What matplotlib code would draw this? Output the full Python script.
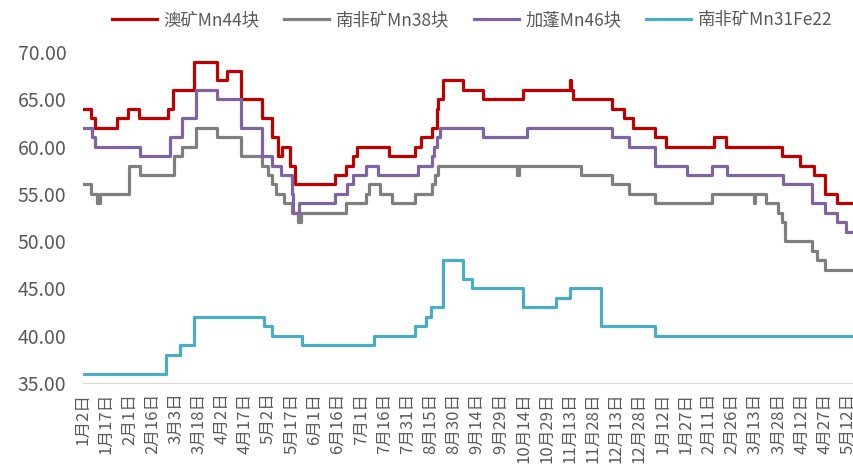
import matplotlib
matplotlib.use("Agg")
import matplotlib.pyplot as plt
import pandas as pd

plt.rcParams['font.family'] = ['Noto Sans CJK SC', 'DejaVu Sans']

# change dates and the price in effect from that date
au_dates = ["2022-01-02", "2022-01-07", "2022-01-10", "2022-01-24", "2022-01-31", "2022-02-07",
            "2022-02-26", "2022-03-01", "2022-03-15", "2022-03-30", "2022-04-05", "2022-04-14",
            "2022-04-28", "2022-05-04", "2022-05-08", "2022-05-11", "2022-05-16", "2022-05-19",
            "2022-06-14", "2022-06-21", "2022-06-26", "2022-06-28", "2022-07-19", "2022-08-05",
            "2022-08-09", "2022-08-16", "2022-08-19", "2022-08-20", "2022-08-23", "2022-09-05",
            "2022-09-18", "2022-10-14", "2022-11-13", "2022-11-14", "2022-11-15", "2022-12-10",
            "2022-12-18", "2022-12-24", "2023-01-07", "2023-01-14", "2023-02-14", "2023-02-22",
            "2023-03-30", "2023-04-11", "2023-04-20", "2023-04-27", "2023-05-05", "2023-05-15"]
au_vals = [64, 63, 62, 63, 64, 63,
           64, 66, 69, 67, 68, 65,
           63, 61, 59, 60, 58, 56,
           57, 58, 59, 60, 59, 60,
           61, 62, 64, 65, 67, 66,
           65, 66, 67, 66, 65, 64,
           63, 62, 61, 60, 61, 60,
           59, 58, 57, 55, 54, 54]

sa38_dates = ["2022-01-02", "2022-01-07", "2022-01-11", "2022-01-13", "2022-02-01", "2022-02-08",
              "2022-03-02", "2022-03-07", "2022-03-16", "2022-03-30", "2022-04-14", "2022-04-28",
              "2022-05-02", "2022-05-04", "2022-05-07", "2022-05-12", "2022-05-17", "2022-05-21",
              "2022-05-23", "2022-06-21", "2022-07-04", "2022-07-06", "2022-07-13", "2022-07-21",
              "2022-08-05", "2022-08-16", "2022-08-18", "2022-08-20", "2022-10-10", "2022-10-11",
              "2022-11-20", "2022-12-10", "2022-12-21", "2023-01-07", "2023-02-13", "2023-03-12",
              "2023-03-13", "2023-03-20", "2023-03-28", "2023-03-30", "2023-04-01", "2023-04-19",
              "2023-04-22", "2023-04-27", "2023-05-15"]
sa38_vals = [56, 55, 54, 55, 58, 57,
             59, 60, 62, 61, 59, 58,
             57, 56, 55, 54, 53, 52,
             53, 54, 55, 56, 55, 54,
             55, 56, 57, 58, 57, 58,
             57, 56, 55, 54, 55, 54,
             55, 54, 53, 52, 50, 49,
             48, 47, 47]

ga_dates = ["2022-01-02", "2022-01-08", "2022-01-10", "2022-02-08", "2022-02-27", "2022-03-07",
            "2022-03-16", "2022-03-30", "2022-04-14", "2022-04-28", "2022-05-04", "2022-05-10",
            "2022-05-17", "2022-05-18", "2022-05-22", "2022-06-14", "2022-06-22", "2022-06-26",
            "2022-07-04", "2022-07-12", "2022-08-07", "2022-08-16", "2022-08-17", "2022-08-19",
            "2022-08-21", "2022-09-18", "2022-10-16", "2022-12-10", "2022-12-21", "2023-01-07",
            "2023-01-28", "2023-02-13", "2023-02-23", "2023-03-31", "2023-04-19", "2023-04-27",
            "2023-05-05", "2023-05-11", "2023-05-15"]
ga_vals = [62, 61, 60, 59, 61, 63,
           66, 65, 62, 59, 58, 57,
           55, 53, 54, 55, 56, 57,
           58, 57, 58, 59, 60, 61,
           62, 61, 62, 61, 60, 58,
           57, 58, 57, 56, 54, 53,
           52, 51, 51]

sa31_dates = ["2022-01-02", "2022-02-25", "2022-03-06", "2022-03-15", "2022-04-29", "2022-05-04",
              "2022-05-24", "2022-07-09", "2022-08-05", "2022-08-12", "2022-08-15", "2022-08-23",
              "2022-09-05", "2022-09-11", "2022-10-14", "2022-11-04", "2022-11-13", "2022-12-03",
              "2023-01-07", "2023-05-15"]
sa31_vals = [36, 38, 39, 42, 41, 40,
             39, 40, 41, 42, 43, 48,
             46, 45, 43, 44, 45, 41,
             40, 40]

series = [
    ("澳矿Mn44块", au_dates, au_vals, "#C00000"),
    ("南非矿Mn38块", sa38_dates, sa38_vals, "#7F7F7F"),
    ("加蓬Mn46块", ga_dates, ga_vals, "#8064A2"),
    ("南非矿Mn31Fe22", sa31_dates, sa31_vals, "#4BACC6"),
]

start = pd.Timestamp("2022-01-02")
end = pd.Timestamp("2023-05-15")
ticks = pd.date_range(start, "2023-05-12", freq="15D")
tick_labels = [f"{t.month}月{t.day}日" for t in ticks]

fig = plt.figure(figsize=(8.54, 4.74), dpi=100)
ax = fig.add_axes([0.0972, 0.192, 0.9012, 0.698])

for name, dates, vals, color in series:
    ax.plot(pd.to_datetime(dates), vals, drawstyle="steps-post", color=color,
            lw=2.3, label=name)

ax.set_xlim(start, end)
ax.set_ylim(35, 70)
ax.set_yticks(range(35, 71, 5))
ax.set_yticklabels([f"{v:.2f}" for v in range(35, 71, 5)])
ax.set_xticks(ticks)
ax.set_xticklabels(tick_labels, rotation=90, va="top", ha="center")

ax.tick_params(axis="y", length=0, labelsize=14, labelcolor="#595959", pad=12)
ax.tick_params(axis="x", length=0, labelsize=12, labelcolor="#595959", pad=7)
for s in ["top", "right", "left"]:
    ax.spines[s].set_visible(False)
ax.spines["bottom"].set_color("#D9D9D9")

fig.legend(loc="upper center", bbox_to_anchor=(0.553, 1.01), ncol=4, frameon=False,
           fontsize=12.5, handlelength=2.6, columnspacing=1.4, handletextpad=0.4,
           labelcolor="#595959")

fig.savefig("out.png", dpi=100)
